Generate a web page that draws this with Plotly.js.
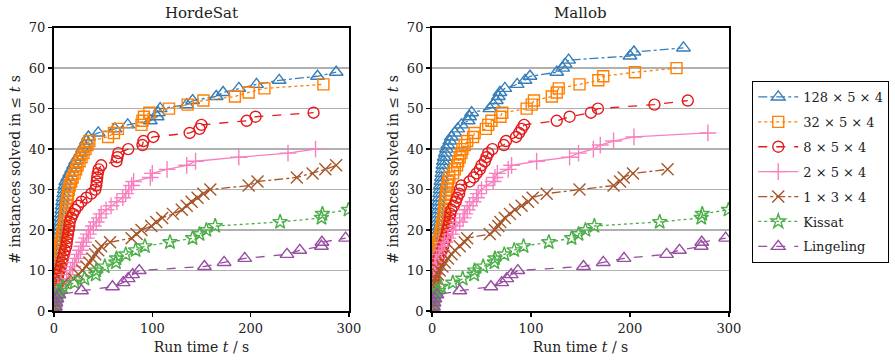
<!DOCTYPE html>
<html><head><meta charset="utf-8">
<script src="https://cdn.plot.ly/plotly-3.0.1.min.js"></script>
<style>body{margin:0;padding:0;background:#fff}#chart{width:895px;height:364px}</style>
</head><body><div id="chart"></div>
<script>
// Run times (s) of solved instances, sorted; y = number solved with time <= t
const seriesNames = ["128 × 5 × 4","32 × 5 × 4","8 × 5 × 4","2 × 5 × 4","1 × 3 × 4","Kissat","Lingeling"];

const hordesat128 = [0.5,0.8,1.0,1.2,1.5,1.8,2.0,2.3,2.6,3.0,3.3,3.6,3.9,4.2,4.5,4.8,5.1,5.4,5.7,6.0,6.3,6.6,7.0,7.4,7.8,8.3,8.8,9.3,9.9,10.5,11.2,12.0,14,16,18,20,22,24.5,27,29,31,33,35,45,62,75,98,105,106,108,135,141,165,172,188,206,229,268,287];
const hordesat32 = [0.5,0.8,1.1,1.4,1.7,2.0,2.3,2.6,3.0,3.4,3.8,4.3,4.8,5.3,5.8,6.4,7.0,7.7,8.5,9.5,10.2,10.8,11.3,11.8,12.3,12.8,13.3,13.8,14.3,15.0,16,17.5,19,21,22.5,24,26,28,30,32,34,36,55,61,65,89,90,91.5,97,117,136,152,184,198,214,274];
const hordesat8 = [0.5,0.8,1.1,1.4,1.7,2.0,2.5,3.5,4.5,5.8,7.0,8.0,9.0,10.0,11.2,12.5,13.0,13.6,14.3,15.0,15.6,16.0,17.5,19.4,21.5,24.5,28,33,38,42,43,43.5,44,44.5,45.5,48,63.6,64.5,65.5,75.5,90,91,101,138,148,150,196,205,264];
const hordesat2 = [0.5,1.0,1.5,2.2,3.0,4,7,13,16,17,19,21,23,25,27,28.5,30,33,35,37,40,43,46,48,53,58,64,70,73,76,79,81,98,100,115,135,144,188,238,266];
const hordesat1 = [0.8,1.2,2,3,4,6,10,20,25,29,33,36,39,42,45,48,57,79,84,89,99,104,110,121,130,135,140,146,152,159,198,207,247,263,276,287];

const mallob128 = [0.3,0.4,0.5,0.6,0.7,0.8,0.9,1.0,1.2,1.4,1.6,1.8,2.0,2.2,2.5,3,3.5,4,4.3,4.7,5,5.3,5.6,5.9,6.2,6.5,6.9,7.3,7.7,8.1,8.5,9,9.5,10,10.5,11,11.5,12.3,13.3,14.5,16,18,19.6,23,26,29.7,36.5,38,40,58.4,62,65,67,68.6,73.6,86,94,99,126,132,134.5,138,200,204,254];
const mallob32 = [0.3,0.4,0.5,0.6,0.7,0.8,1.0,1.2,1.5,1.8,2.1,2.5,3,3.7,4.5,5.5,6.5,7.5,8.5,9.3,10,11,11.5,12,12.5,13,13.5,14,14.5,15,15.5,16.2,17.5,21.3,23,25.3,26.4,28,29.7,30.7,33,35.5,41.5,43,54.4,56.8,60,69,71,95.6,100.7,103,121,126,128,149,168,173,205,247];
const mallob8 = [0.3,0.5,0.7,0.9,1.1,1.4,1.7,2.0,2.5,3.0,3.5,5,6.5,8.5,10,11.3,12.3,13.5,14.7,15.5,16.5,17.5,18,18.6,19.6,22,24,25.3,27.4,28,29.7,38,42,45,48.3,50,53.4,55,56.8,61,72.6,74.7,85,88,90.5,93,126,139,160.5,167.6,224.7,258.4];
const mallob2 = [0.3,0.5,0.7,0.9,1.1,1.3,1.6,1.9,2.2,2.6,3.0,3.5,4.4,7,9.5,11,12.8,16,19.6,21.3,24,28,31.4,33,35.5,38,41.5,45,46.6,50,55,61.8,63.5,66,77,80.4,105.7,139,148,163,170,183.4,204,278.7];
const mallob1 = [0.3,0.6,0.9,1.2,1.6,2.0,2.5,3.7,6,7.8,10.5,12.8,16,19.6,23,28,33,35.5,58.4,63.5,67,69,73.6,78.7,83.8,90.5,97,101.7,115.9,149,183.4,190,193.6,203,238];

const kissat = [1,2,3,4,6.5,9,21,31,42.5,43,51.7,63,63.6,73,83,92.5,118,141,148,155,164,230,272,273,299.5];
const lingeling = [1.5,2,3,5,28,59.5,70.4,75.5,80,86.7,153,173,194,237,250,272,272.5,296.6];

const yTicks = [0,10,20,30,40,50,60,70];
const xTicks = [0,100,200,300];

const colors = ["#377eb8","#ff7f00","#e41a1c","#f781bf","#a65628","#4daf4a","#984ea3"];
const dashes = ["dashdot","dot","dash","solid","dashdot","dot","dash"];
const symbols = ["triangle-up-open","square-open","circle-open","cross-thin-open","x-thin-open","star-open","triangle-up-open"];
const sizes = [12,11,11,12,12,11,12];

const hordesatData = [hordesat128,hordesat32,hordesat8,hordesat2,hordesat1,kissat,lingeling];
const mallobData = [mallob128,mallob32,mallob8,mallob2,mallob1,kissat,lingeling];

const traces = [];
function add(data, ax, showLeg){
  data.forEach((times,i)=>{
    traces.push({
      x: times, y: times.map((_,k)=>k+1),
      xaxis: ax==1?'x':'x2', yaxis: ax==1?'y':'y2',
      type:'scatter', mode:'lines+markers', name: seriesNames[i],
      showlegend: showLeg, legendgroup: 'g'+i,
      line:{color:colors[i], width:1.3, dash:dashes[i]},
      marker:{symbol:symbols[i], size:sizes[i], color:colors[i], line:{color:colors[i], width:1.4}}
    });
  });
}
add(hordesatData,1,true);
add(mallobData,2,false);

const FAM = "DejaVu Serif";
const font = {family:FAM, color:'#222', size:13};
function xa(dom){return {domain:dom, range:[0,300], tickvals:xTicks, ticks:'outside', ticklen:4, tickwidth:1.5, tickcolor:'#000',
  showline:true, mirror:true, linecolor:'#000', linewidth:2, showgrid:false, zeroline:false,
  title:{text:'Run time <i>t</i> / s', font:{family:FAM, size:14}, standoff:8}, tickfont:{family:FAM, size:13}};}
function ya(anchor){return {domain:[0.1456,0.9239], range:[0,70], tickvals:yTicks, ticks:'outside', ticklen:4, tickwidth:1.5, tickcolor:'#000',
  showline:true, mirror:true, linecolor:'#000', linewidth:2, showgrid:true, gridcolor:'#b0b0b0', gridwidth:1.5, zeroline:false,
  anchor:anchor, title:{text:'# instances solved in ≤ <i>t</i> s', font:{family:FAM, size:14}, standoff:5}, tickfont:{family:FAM, size:13}};}

const layout = {
  width:895, height:364, margin:{l:0,r:0,t:0,b:0}, font:font,
  paper_bgcolor:'#fff', plot_bgcolor:'#fff',
  xaxis: Object.assign(xa([0.0603,0.3899]),{anchor:'y'}),
  yaxis: ya('x'),
  xaxis2: Object.assign(xa([0.4827,0.8145]),{anchor:'y2'}),
  yaxis2: ya('x2'),
  legend:{x:0.8405, y:0.7775, xanchor:'left', yanchor:'top', bordercolor:'#000', borderwidth:1, bgcolor:'#fff',
    font:{family:FAM, size:13}, tracegroupgap:5, itemwidth:40},
  annotations:[
    {text:'HordeSat', xref:'paper', yref:'paper', x:0.2251, y:0.935, xanchor:'center', yanchor:'bottom', showarrow:false, font:{family:FAM, size:15}},
    {text:'Mallob', xref:'paper', yref:'paper', x:0.6486, y:0.935, xanchor:'center', yanchor:'bottom', showarrow:false, font:{family:FAM, size:15}}
  ],
  showlegend:true
};
Plotly.newPlot('chart', traces, layout, {displayModeBar:false, staticPlot:true});
</script></body></html>
